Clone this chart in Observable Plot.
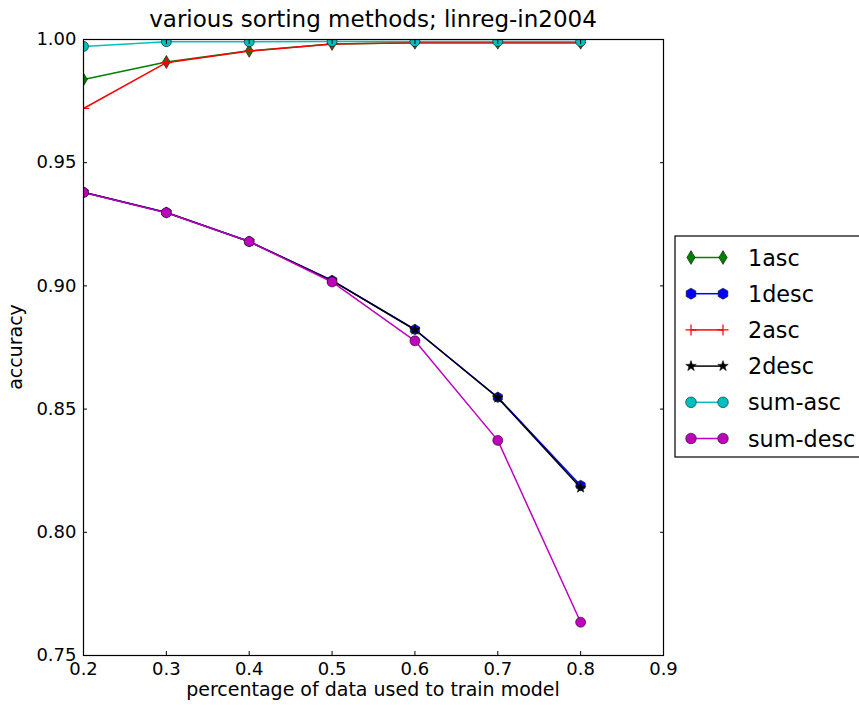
<!DOCTYPE html>
<html><head><meta charset="utf-8">
<script src="https://cdn.jsdelivr.net/npm/d3@7"></script>
<script src="https://cdn.jsdelivr.net/npm/@observablehq/plot@0.6"></script>
<style>body{margin:0;background:#fff}</style>
</head><body><div id="chart"></div>
<script>
// ---- data ----
const xs = [0.2, 0.3, 0.4, 0.5, 0.6, 0.7, 0.8];
const seriesNames = ["1asc", "1desc", "2asc", "2desc", "sum-asc", "sum-desc"];
const asc1    = [0.9838, 0.9909, 0.9954, 0.9982, 0.9987, 0.9987, 0.9987];
const desc1   = [0.9380, 0.9298, 0.9180, 0.9022, 0.8823, 0.8548, 0.8190];
const asc2    = [0.9720, 0.9906, 0.9953, 0.9982, 0.9987, 0.9987, 0.9987];
const desc2   = [0.9380, 0.9298, 0.9180, 0.9021, 0.8822, 0.8546, 0.8181];
const sumAsc  = [0.9972, 0.9991, 0.9991, 0.9992, 0.9992, 0.9992, 0.9992];
const sumDesc = [0.9379, 0.9297, 0.9180, 0.9016, 0.8777, 0.8373, 0.7635];
const xTicks = [0.2, 0.3, 0.4, 0.5, 0.6, 0.7, 0.8, 0.9];
const yTicks = [0.75, 0.80, 0.85, 0.90, 0.95, 1.00];
const titleText = "various sorting methods; linreg-in2004";
const xLabelText = "percentage of data used to train model";
const yLabelText = "accuracy";

// ---- marker shapes ----
const R = s => Math.sqrt(s / Math.PI);
const thinDiamond = {draw(c, s) { const r = R(s) * 1.3; c.moveTo(0, -r); c.lineTo(0.6 * r, 0); c.lineTo(0, r); c.lineTo(-0.6 * r, 0); c.closePath(); }};
const hexagon = {draw(c, s) { const r = R(s) * 1.05; for (let k = 0; k < 6; k++) { const a = -Math.PI / 2 + k * Math.PI / 3; const x = r * Math.cos(a), y = r * Math.sin(a); k ? c.lineTo(x, y) : c.moveTo(x, y); } c.closePath(); }};
const plusSym = {draw(c, s) { const r = R(s); c.moveTo(-r, 0); c.lineTo(r, 0); c.moveTo(0, -r); c.lineTo(0, r); }};
const starSym = {draw(c, s) { const r = R(s), ri = r * 0.4; for (let k = 0; k < 10; k++) { const a = -Math.PI / 2 + k * Math.PI / 5; const rr = k % 2 ? ri : r; const x = rr * Math.cos(a), y = rr * Math.sin(a); k ? c.lineTo(x, y) : c.moveTo(x, y); } c.closePath(); }};
const circleSym = {draw(c, s) { const r = R(s); c.moveTo(r, 0); c.arc(0, 0, r, 0, 2 * Math.PI); c.closePath(); }};

const seriesValues = [asc1, desc1, asc2, desc2, sumAsc, sumDesc];
const seriesColors = ["#008000", "#0000ff", "#ff0000", "#000000", "#00bfbf", "#bf00bf"];
const seriesSymbols = [thinDiamond, hexagon, plusSym, starSym, circleSym, circleSym];

const series = seriesNames.map((name, i) => ({
  name, color: seriesColors[i], symbol: seriesSymbols[i], isPlus: seriesSymbols[i] === plusSym,
  data: xs.map((x, j) => ({x, y: seriesValues[i][j]}))
}));

const W = 859, H = 705, mL = 83, mR = 196, mT = 39, mB = 50;
const FONT = "DejaVu Sans";
const LW = 1.5;

const marks = [];
for (const s of series) {
  marks.push(Plot.line(s.data, {x: "x", y: "y", stroke: s.color, strokeWidth: LW, clip: true}));
  marks.push(Plot.dot(s.data, s.isPlus
    ? {x: "x", y: "y", r: 5.5, symbol: s.symbol, fill: "none", stroke: s.color, strokeWidth: 1.2, clip: true}
    : {x: "x", y: "y", r: s.symbol === starSym ? 5.5 : 5, symbol: s.symbol, fill: s.color, stroke: "#111", strokeWidth: 0.6, clip: true}));
}

const chart = Plot.plot({
  width: W, height: H,
  marginLeft: mL, marginRight: mR, marginTop: mT, marginBottom: mB,
  style: {fontFamily: FONT, fontSize: "18px", background: "#fff", color: "#000"},
  x: {domain: [0.2, 0.9]},
  y: {domain: [0.75, 1.0]},
  marks: [
    ...marks,
    Plot.axisX({anchor: "bottom", ticks: xTicks, tickFormat: ".1f", tickSize: 0, tickPadding: 7, label: null, fontSize: 18}),
    Plot.axisY({anchor: "left", ticks: yTicks, tickFormat: ".2f", tickSize: 0, tickPadding: 7, label: null, fontSize: 18}),
    Plot.axisX({anchor: "bottom", ticks: xTicks, tickSize: -4, fill: "none", label: null}),
    Plot.axisX({anchor: "top", ticks: xTicks, tickSize: -4, fill: "none", label: null}),
    Plot.axisY({anchor: "left", ticks: yTicks, tickSize: -4, fill: "none", label: null}),
    Plot.axisY({anchor: "right", ticks: yTicks, tickSize: -4, fill: "none", label: null}),
    Plot.frame({stroke: "#000", strokeWidth: 1.2})
  ]
});
document.getElementById("chart").append(chart);

// ---- title, axis labels, legend ----
const svg = d3.select(chart);
const cx = mL + (W - mL - mR) / 2;
svg.append("text").attr("x", cx).attr("y", 27).attr("text-anchor", "middle")
  .attr("font-family", FONT).attr("font-size", 23).attr("fill", "#000").text(titleText);
svg.append("text").attr("x", cx).attr("y", 696).attr("text-anchor", "middle")
  .attr("font-family", FONT).attr("font-size", 19).attr("fill", "#000").text(xLabelText);
svg.append("text").attr("transform", `translate(22,${mT + (H - mT - mB) / 2}) rotate(-90)`).attr("text-anchor", "middle")
  .attr("font-family", FONT).attr("font-size", 19).attr("fill", "#000").text(yLabelText);

const lg = svg.append("g");
lg.append("rect").attr("x", 675).attr("y", 236).attr("width", 200).attr("height", 221)
  .attr("fill", "#fff").attr("stroke", "#000").attr("stroke-width", 1.2);
series.forEach((s, i) => {
  const y = 257.5 + i * 36.2;
  const g = lg.append("g");
  g.append("line").attr("x1", 691).attr("x2", 723).attr("y1", y).attr("y2", y).attr("stroke", s.color).attr("stroke-width", LW);
  for (const x of [691, 723]) {
    const p = d3.path();
    const r = s.isPlus ? 5.5 : (s.symbol === starSym ? 5.5 : 5.3);
    s.symbol.draw(p, r * r * Math.PI);
    g.append("path").attr("d", p.toString()).attr("transform", `translate(${x},${y})`)
      .attr("fill", s.isPlus ? "none" : s.color).attr("stroke", s.isPlus ? s.color : "#111")
      .attr("stroke-width", s.isPlus ? 1.2 : 0.6);
  }
  g.append("text").attr("x", 748).attr("y", y).attr("dy", "0.36em").attr("text-anchor", "start")
    .attr("font-family", FONT).attr("font-size", 22.3).attr("fill", "#000").text(s.name);
});
</script></body></html>
